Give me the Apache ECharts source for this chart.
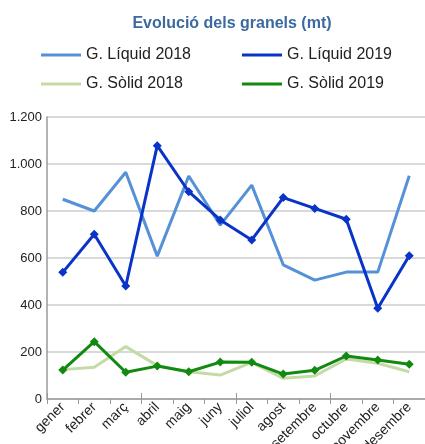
<!DOCTYPE html>
<html>
<head>
<meta charset="utf-8">
<script src="https://cdn.jsdelivr.net/npm/echarts@6/dist/echarts.min.js"></script>
<style>
  html, body { margin: 0; padding: 0; background: #fff; }
  #chart { width: 425px; height: 444px; }
</style>
</head>
<body>
<div id="chart"></div>
<script>
// mesos
var months = ["gener", "febrer", "març", "abril", "maig", "juny", "juliol", "agost", "setembre", "octubre", "novembre", "desembre"];
// valors llegits del gràfic (mt)
var liquid2018 = [850, 800, 965, 608, 949, 740, 910, 571, 506, 540, 540, 950];
var liquid2019 = [539, 701, 481, 1078, 882, 762, 677, 857, 811, 765, 386, 610];
var solid2018 = [125, 135, 223, 142, 116, 102, 156, 88, 98, 170, 152, 116];
var solid2019 = [123, 244, 114, 140, 116, 157, 156, 106, 122, 183, 166, 148];

var myChart = echarts.init(document.getElementById("chart"));

var legendText = { fontFamily: "Liberation Sans", fontSize: 16, color: "#222" };

var options = {
  animation: false,
  title: {
    text: "Evolució dels granels (mt)",
    left: 227,
    top: 11,
    textAlign: "center",
    textStyle: { fontFamily: "Liberation Sans", fontSize: 16, fontWeight: "bold", color: "#3a6aa0" }
  },
  legend: [
    {
      orient: "vertical",
      left: 36,
      top: 42,
      itemGap: 13,
      itemWidth: 40,
      itemHeight: 3,
      icon: "rect",
      textStyle: legendText,
      data: ["G. Líquid 2018", "G. Sòlid 2018"]
    },
    {
      orient: "vertical",
      left: 237,
      top: 42,
      itemGap: 13,
      itemWidth: 40,
      itemHeight: 3,
      icon: "rect",
      textStyle: legendText,
      data: ["G. Líquid 2019", "G. Sòlid 2019"]
    }
  ],
  grid: { left: 47, top: 117, right: 0, bottom: 45, outerBoundsMode: "none" },
  xAxis: [
    {
      type: "category",
      data: months,
      boundaryGap: true,
      axisLine: { lineStyle: { color: "#9a9a9a", width: 1.5 } },
      axisTick: { show: true, length: 5, lineStyle: { color: "#9a9a9a" } },
      axisLabel: {
        rotate: 45,
        interval: 0,
        margin: 6,
        fontFamily: "Liberation Sans",
        fontSize: 14,
        color: "#222"
      }
    },
    {
      // marques creuades per sobre de l'eix
      type: "category",
      data: months,
      position: "bottom",
      boundaryGap: true,
      axisLine: { show: false },
      axisTick: { show: true, inside: true, length: 6, lineStyle: { color: "#9a9a9a" } },
      axisLabel: { show: false }
    }
  ],
  yAxis: {
    type: "value",
    min: 0,
    max: 1200,
    interval: 200,
    axisLine: { show: true, lineStyle: { color: "#9a9a9a", width: 1.5 } },
    axisTick: { show: false },
    splitLine: { lineStyle: { color: "#cccccc", width: 1.5 } },
    axisLabel: {
      margin: 5,
      fontFamily: "Liberation Sans",
      fontSize: 13,
      color: "#222",
      formatter: function (v) {
        return v.toString().replace(/\B(?=(\d{3})+(?!\d))/g, ".");
      }
    }
  },
  series: [
    {
      name: "G. Líquid 2018",
      type: "line",
      data: liquid2018,
      showSymbol: false,
      symbol: "none",
      color: "#5591d6",
      lineStyle: { width: 3, color: "#5591d6" }
    },
    {
      name: "G. Líquid 2019",
      type: "line",
      data: liquid2019,
      symbol: "diamond",
      symbolSize: 9,
      color: "#0a34c8",
      itemStyle: { color: "#0a34c8" },
      lineStyle: { width: 3, color: "#0a34c8" }
    },
    {
      name: "G. Sòlid 2018",
      type: "line",
      data: solid2018,
      showSymbol: false,
      symbol: "none",
      color: "#c5dba6",
      lineStyle: { width: 3, color: "#c5dba6" }
    },
    {
      name: "G. Sòlid 2019",
      type: "line",
      data: solid2019,
      symbol: "diamond",
      symbolSize: 9,
      color: "#128a12",
      itemStyle: { color: "#128a12" },
      lineStyle: { width: 3, color: "#128a12" }
    }
  ]
};

myChart.setOption(options);
</script>
</body>
</html>
